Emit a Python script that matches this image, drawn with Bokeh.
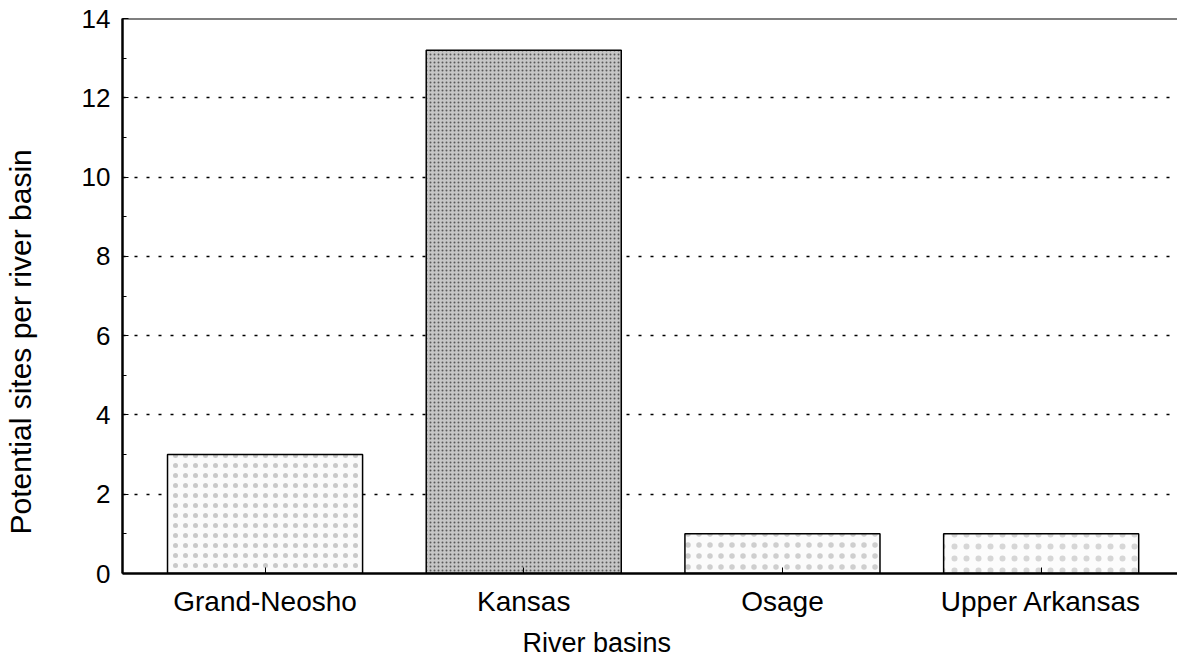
from bokeh.plotting import figure
from bokeh.models import (ColumnDataSource, SingleIntervalTicker, FixedTicker,
                          Span, Title, Range1d)
from bokeh.embed import file_html
from bokeh.resources import INLINE

# ---- data ----
basins = ["Grand-Neosho", "Kansas", "Osage", "Upper Arkansas"]
sites = [3, 13.2, 1, 1]

# ---- styles (separate from data) ----
bar_fill = ["#fafafa", "#c6c6c6", "#fbfbfb", "#fcfcfc"]
bar_hatch_scale = [10, 4, 11, 12]
bar_hatch_alpha = [0.2, 0.55, 0.18, 0.15]

FONT = "Liberation Sans"

xs = list(range(1, len(basins) + 1))
src = ColumnDataSource(dict(x=xs, top=sites, fill=bar_fill,
                            hs=bar_hatch_scale, ha=bar_hatch_alpha))

p = figure(width=1177, height=663, output_backend="svg", toolbar_location=None,
           x_range=Range1d(0.449, 4.527), y_range=Range1d(0, 14),
           min_border_left=122, min_border_right=0, min_border_top=18,
           min_border_bottom=90)
p.outline_line_color = None
p.background_fill_color = "white"
p.border_fill_color = "white"

p.vbar(x="x", top="top", bottom=0, width=0.754, source=src,
       fill_color="fill", line_color="black", line_width=1.5,
       hatch_pattern="dot", hatch_scale="hs", hatch_alpha="ha",
       hatch_color="black", hatch_weight=1)

# grid
p.xgrid.grid_line_color = None
p.ygrid.grid_line_color = "black"
p.ygrid.grid_line_dash = "3 9"
p.ygrid.grid_line_width = 1.5
p.ygrid.level = "underlay"

# top border line
p.add_layout(Span(location=14, dimension="width", line_color="black", line_width=2))

# y axis
yax = p.yaxis[0]
yax.ticker = SingleIntervalTicker(interval=2, num_minor_ticks=2)
yax.axis_line_color = "black"
yax.axis_line_width = 2.5
yax.major_tick_in = 6
yax.major_tick_out = 0
yax.minor_tick_in = 4
yax.minor_tick_out = 0
yax.major_tick_line_color = "black"
yax.minor_tick_line_color = "black"
yax.major_label_text_font = FONT
yax.major_label_text_font_size = "26px"
yax.major_label_text_color = "black"
yax.major_label_standoff = 12
# trailing no-break spaces shift the title toward the bottom, as in the reference
yax.axis_label = "Potential sites per river basin" + "\u00a0" * 11
yax.axis_label_text_font = FONT
yax.axis_label_text_font_size = "30px"
yax.axis_label_text_font_style = "normal"
yax.axis_label_text_color = "black"
yax.axis_label_standoff = 42

# x axis
xax = p.xaxis[0]
xax.ticker = FixedTicker(ticks=xs)
xax.major_label_overrides = {x: b for x, b in zip(xs, basins)}
xax.axis_line_color = "black"
xax.axis_line_width = 2.5
xax.major_tick_in = 6
xax.major_tick_out = 0
xax.minor_tick_line_color = None
xax.major_tick_line_color = "black"
xax.major_label_text_font = FONT
xax.major_label_text_font_size = "28px"
xax.major_label_text_color = "black"
xax.major_label_standoff = 12

# x-axis title (off-centre, as in the reference)
p.add_layout(Title(text="River basins", align="left", offset=400,
                   text_font=FONT, text_font_size="27px", text_color="black",
                   text_font_style="normal", standoff=12), "below")

open("out.html", "w").write(file_html(p, INLINE))
